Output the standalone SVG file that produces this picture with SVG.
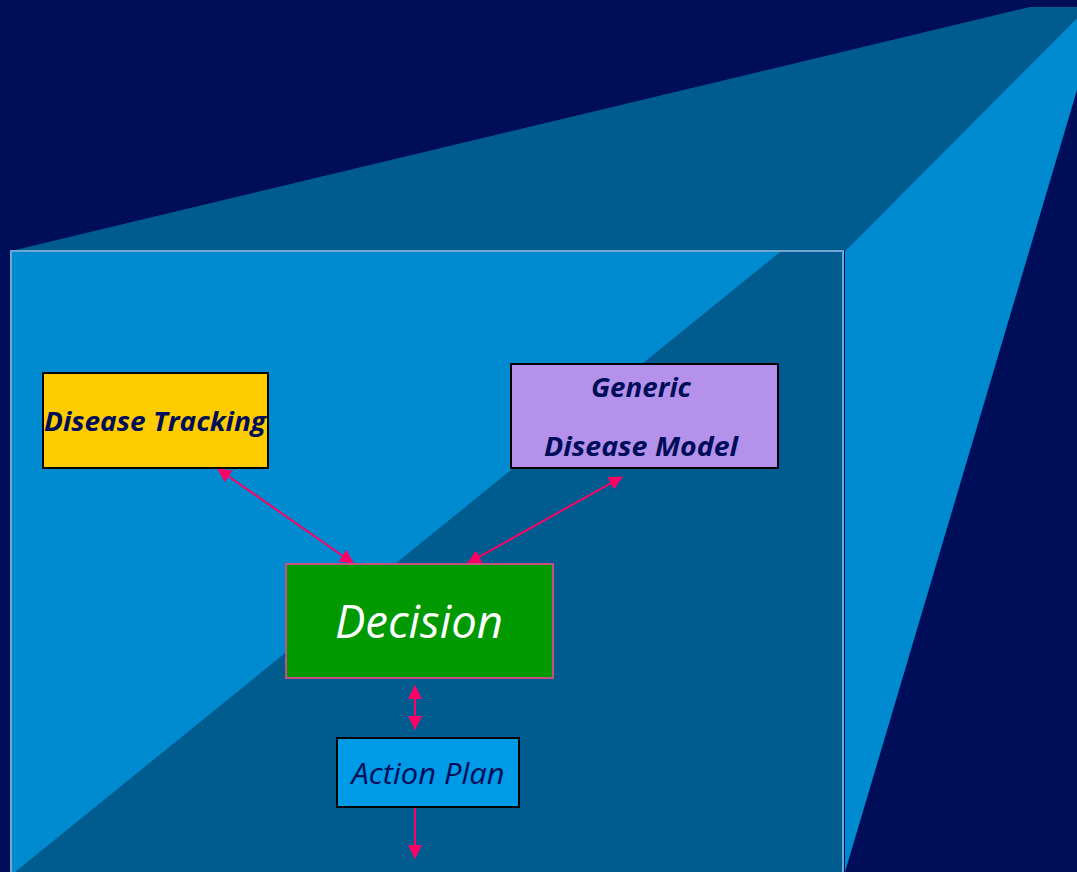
<svg xmlns="http://www.w3.org/2000/svg" width="1077" height="872" viewBox="0 0 1077 872">
  <defs>
    <style>
      .box { stroke: #000000; stroke-width: 2; }
      .lbl { font-family: "Open Sans", "Noto Sans", "Liberation Sans", sans-serif; font-style: italic; text-anchor: middle; }
      .dark { fill: #000E5A; font-weight: bold; }
      .link { stroke: #FF0066; stroke-width: 2; fill: none; }
    </style>
    <marker id="head" viewBox="0 0 14 14" refX="13" refY="7" markerWidth="14" markerHeight="14" markerUnits="userSpaceOnUse" orient="auto-start-reverse">
      <path d="M0,0 L14,7 L0,14 Z" fill="#FF0066"/>
    </marker>
  </defs>

  <!-- backdrop -->
  <rect x="0" y="0" width="1077" height="872" fill="#000E5A"/>

  <!-- perspective box: top face, right face, front face -->
  <polygon points="11,251 1030,7 1077,7 1077,18 845,251" fill="#005C8E"/>
  <polygon points="845,251 1077,18 1077,90 845,872" fill="#008AD0"/>
  <rect x="11" y="251" width="832" height="623" fill="#008AD0" stroke="#6FA8D2" stroke-width="2"/>
  <polygon points="15,872 780,252 842,252 842,872" fill="#005C8E"/>

  <!-- connectors -->
  <g id="connectors">
    <line class="link" x1="218" y1="469" x2="353" y2="563" marker-start="url(#head)" marker-end="url(#head)"/>
    <line class="link" x1="622" y1="477" x2="468" y2="563" marker-start="url(#head)" marker-end="url(#head)"/>
    <line class="link" x1="415" y1="686" x2="415" y2="729" marker-start="url(#head)" marker-end="url(#head)"/>
    <line class="link" x1="415" y1="808" x2="415" y2="858" marker-end="url(#head)"/>
  </g>

  <g id="disease-tracking">
    <rect class="box" x="43" y="373" width="225" height="95" fill="#FFCC00"/>
    <text class="lbl dark" x="155" y="431" font-size="27" textLength="222" lengthAdjust="spacingAndGlyphs">Disease Tracking</text>
  </g>

  <g id="generic-disease-model">
    <rect class="box" x="511" y="364" width="267" height="104" fill="#B491EB"/>
    <text class="lbl dark" x="641" y="397" font-size="27" textLength="100" lengthAdjust="spacingAndGlyphs">Generic</text>
    <text class="lbl dark" x="641" y="456" font-size="27" textLength="194" lengthAdjust="spacingAndGlyphs">Disease Model</text>
  </g>

  <g id="decision">
    <rect x="286" y="564" width="267" height="114" fill="#009900" stroke="#C4507F" stroke-width="2"/>
    <text class="lbl" x="419" y="638" font-size="46" fill="#FFFFFF" textLength="168" lengthAdjust="spacingAndGlyphs">Decision</text>
  </g>

  <g id="action-plan">
    <rect class="box" x="337" y="738" width="182" height="69" fill="#009BE6"/>
    <text class="lbl" x="428" y="784" font-size="29" fill="#000E5A" textLength="153" lengthAdjust="spacingAndGlyphs">Action Plan</text>
  </g>
</svg>
